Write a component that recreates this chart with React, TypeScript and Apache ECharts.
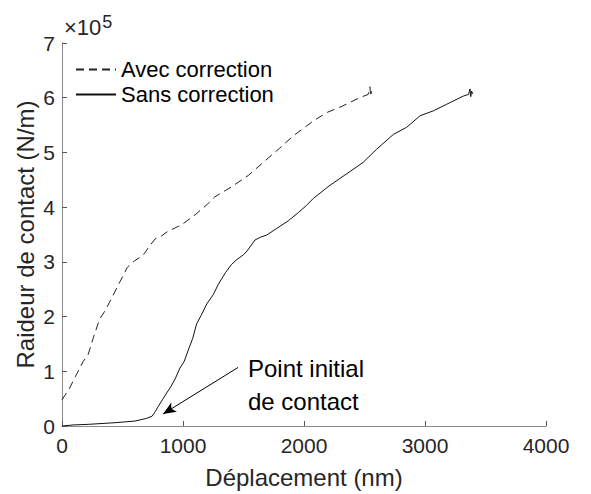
import React, { useEffect, useRef } from "react";
import * as echarts from "echarts";

// Déplacement (nm) and Raideur de contact (×10^5 N/m)
const avecX = [0, 60, 110, 175, 215, 260, 310, 360, 420, 480, 540, 600, 670, 720, 770, 820, 870, 990, 1100, 1200, 1264, 1400, 1540, 1680, 1800, 1910, 2080, 2190, 2320, 2460, 2530, 2545, 2550, 2558];
const avecY = [0.48, 0.68, 0.9, 1.18, 1.3, 1.62, 1.95, 2.12, 2.38, 2.64, 2.9, 3.02, 3.12, 3.28, 3.42, 3.47, 3.55, 3.68, 3.86, 4.05, 4.19, 4.37, 4.58, 4.85, 5.08, 5.3, 5.58, 5.73, 5.85, 6.0, 6.06, 6.2, 6.02, 6.12];

const sansX = [0, 100, 217, 438, 603, 700, 745, 770, 796, 830, 870, 900, 935, 975, 1010, 1044, 1080, 1113, 1150, 1196, 1250, 1292, 1350, 1400, 1444, 1500, 1530, 1595, 1640, 1692, 1774, 1870, 1953, 2020, 2077, 2215, 2353, 2490, 2601, 2739, 2849, 2959, 3069, 3179, 3317, 3360, 3372, 3378, 3385, 3395];
const sansY = [0, 0.02, 0.03, 0.06, 0.09, 0.14, 0.18, 0.26, 0.36, 0.48, 0.62, 0.72, 0.86, 1.06, 1.18, 1.39, 1.6, 1.87, 2.02, 2.23, 2.4, 2.59, 2.8, 2.95, 3.04, 3.13, 3.2, 3.4, 3.45, 3.49, 3.61, 3.75, 3.9, 4.03, 4.16, 4.4, 4.61, 4.82, 5.06, 5.33, 5.46, 5.67, 5.76, 5.88, 6.03, 6.06, 6.16, 6.02, 6.12, 6.07];

const seriesNames = ["Avec correction", "Sans correction"];
const arrowFrom = [1455, 1.07];
const arrowTo = [835, 0.22];
const annotationAnchor = [1537, 1.35];
const annotationText = "Point initial\nde contact";

const FONT = "'Liberation Sans', Arial, Helvetica, sans-serif";

export default function App() {
  const ref = useRef<HTMLDivElement>(null);
  useEffect(() => {
    if (!ref.current) return;
    const chart = echarts.init(ref.current, undefined, { renderer: "svg" });
    const zip = (xs: number[], ys: number[]) => xs.map((x, i) => [x, ys[i]]);
    chart.setOption({
      animation: false,
      backgroundColor: "#fff",
      textStyle: { fontFamily: FONT },
      grid: { left: 62, right: 45, top: 43, bottom: 64, containLabel: false },
      legend: {
        orient: "vertical",
        left: 70,
        top: 52,
        itemWidth: 40,
        itemHeight: 14,
        itemGap: 0,
        data: seriesNames,
        itemStyle: { opacity: 0, borderWidth: 0 },
        textStyle: { fontSize: 22, color: "#000", fontFamily: FONT, lineHeight: 25 },
      },
      xAxis: {
        type: "value",
        min: 0,
        max: 4000,
        interval: 1000,
        name: "Déplacement (nm)",
        nameLocation: "middle",
        nameGap: 39,
        nameMoveOverlap: false,
        nameTextStyle: { fontSize: 24, color: "#262626", fontFamily: FONT },
        axisLine: { lineStyle: { color: "#8a8a8a", width: 1 } },
        axisTick: { inside: true, length: 5, lineStyle: { color: "#555" } },
        axisLabel: { fontSize: 21, color: "#262626", margin: 9, fontFamily: FONT, formatter: (v: number) => String(v) },
        splitLine: { show: false },
      },
      yAxis: {
        type: "value",
        min: 0,
        max: 7,
        interval: 1,
        name: "Raideur de contact (N/m)",
        nameLocation: "middle",
        nameGap: 25,
        nameMoveOverlap: false,
        nameTextStyle: { fontSize: 24, color: "#262626", fontFamily: FONT },
        axisLine: { show: true, lineStyle: { color: "#8a8a8a", width: 1 } },
        axisTick: { show: true, inside: true, length: 5, lineStyle: { color: "#555" } },
        axisLabel: { fontSize: 21, color: "#262626", margin: 7, fontFamily: FONT },
        splitLine: { show: false },
      },
      series: [
        {
          name: seriesNames[0],
          type: "line",
          data: zip(avecX, avecY),
          showSymbol: false,
          symbol: "none",
          lineStyle: { color: "#222", width: 1, type: [8, 5] },
          itemStyle: { color: "#222" },
        },
        {
          name: seriesNames[1],
          type: "line",
          data: zip(sansX, sansY),
          showSymbol: false,
          symbol: "none",
          lineStyle: { color: "#111", width: 1, type: "solid" },
          itemStyle: { color: "#111" },
          markLine: {
            silent: true,
            animation: false,
            symbol: ["none", "arrow"],
            symbolSize: [8, 13],
            label: { show: false },
            lineStyle: { color: "#000", width: 1, type: "solid" },
            emphasis: { disabled: true },
            data: [[{ coord: arrowFrom }, { coord: arrowTo }]],
          },
        },
      ],
    });
    const p = chart.convertToPixel({ gridIndex: 0 }, annotationAnchor) as number[];
    chart.setOption({
      graphic: [
        {
          type: "text",
          left: 64,
          top: 13,
          style: {
            text: "×10{sup|5}",
            fontSize: 22,
            fill: "#262626",
            fontFamily: FONT,
            rich: { sup: { fontSize: 18, verticalAlign: "top", padding: [0, 0, 10, 1], fill: "#262626", fontFamily: FONT } },
          },
        },
        {
          type: "text",
          x: p[0],
          y: p[1],
          style: {
            text: annotationText,
            fontSize: 24,
            lineHeight: 33,
            fill: "#000",
            fontFamily: FONT,
          },
        },
      ],
    });
    return () => chart.dispose();
  }, []);
  return (
    <div
      ref={ref}
      style={{ position: "absolute", left: 0, top: 0, width: 591, height: 494 }}
    />
  );
}
